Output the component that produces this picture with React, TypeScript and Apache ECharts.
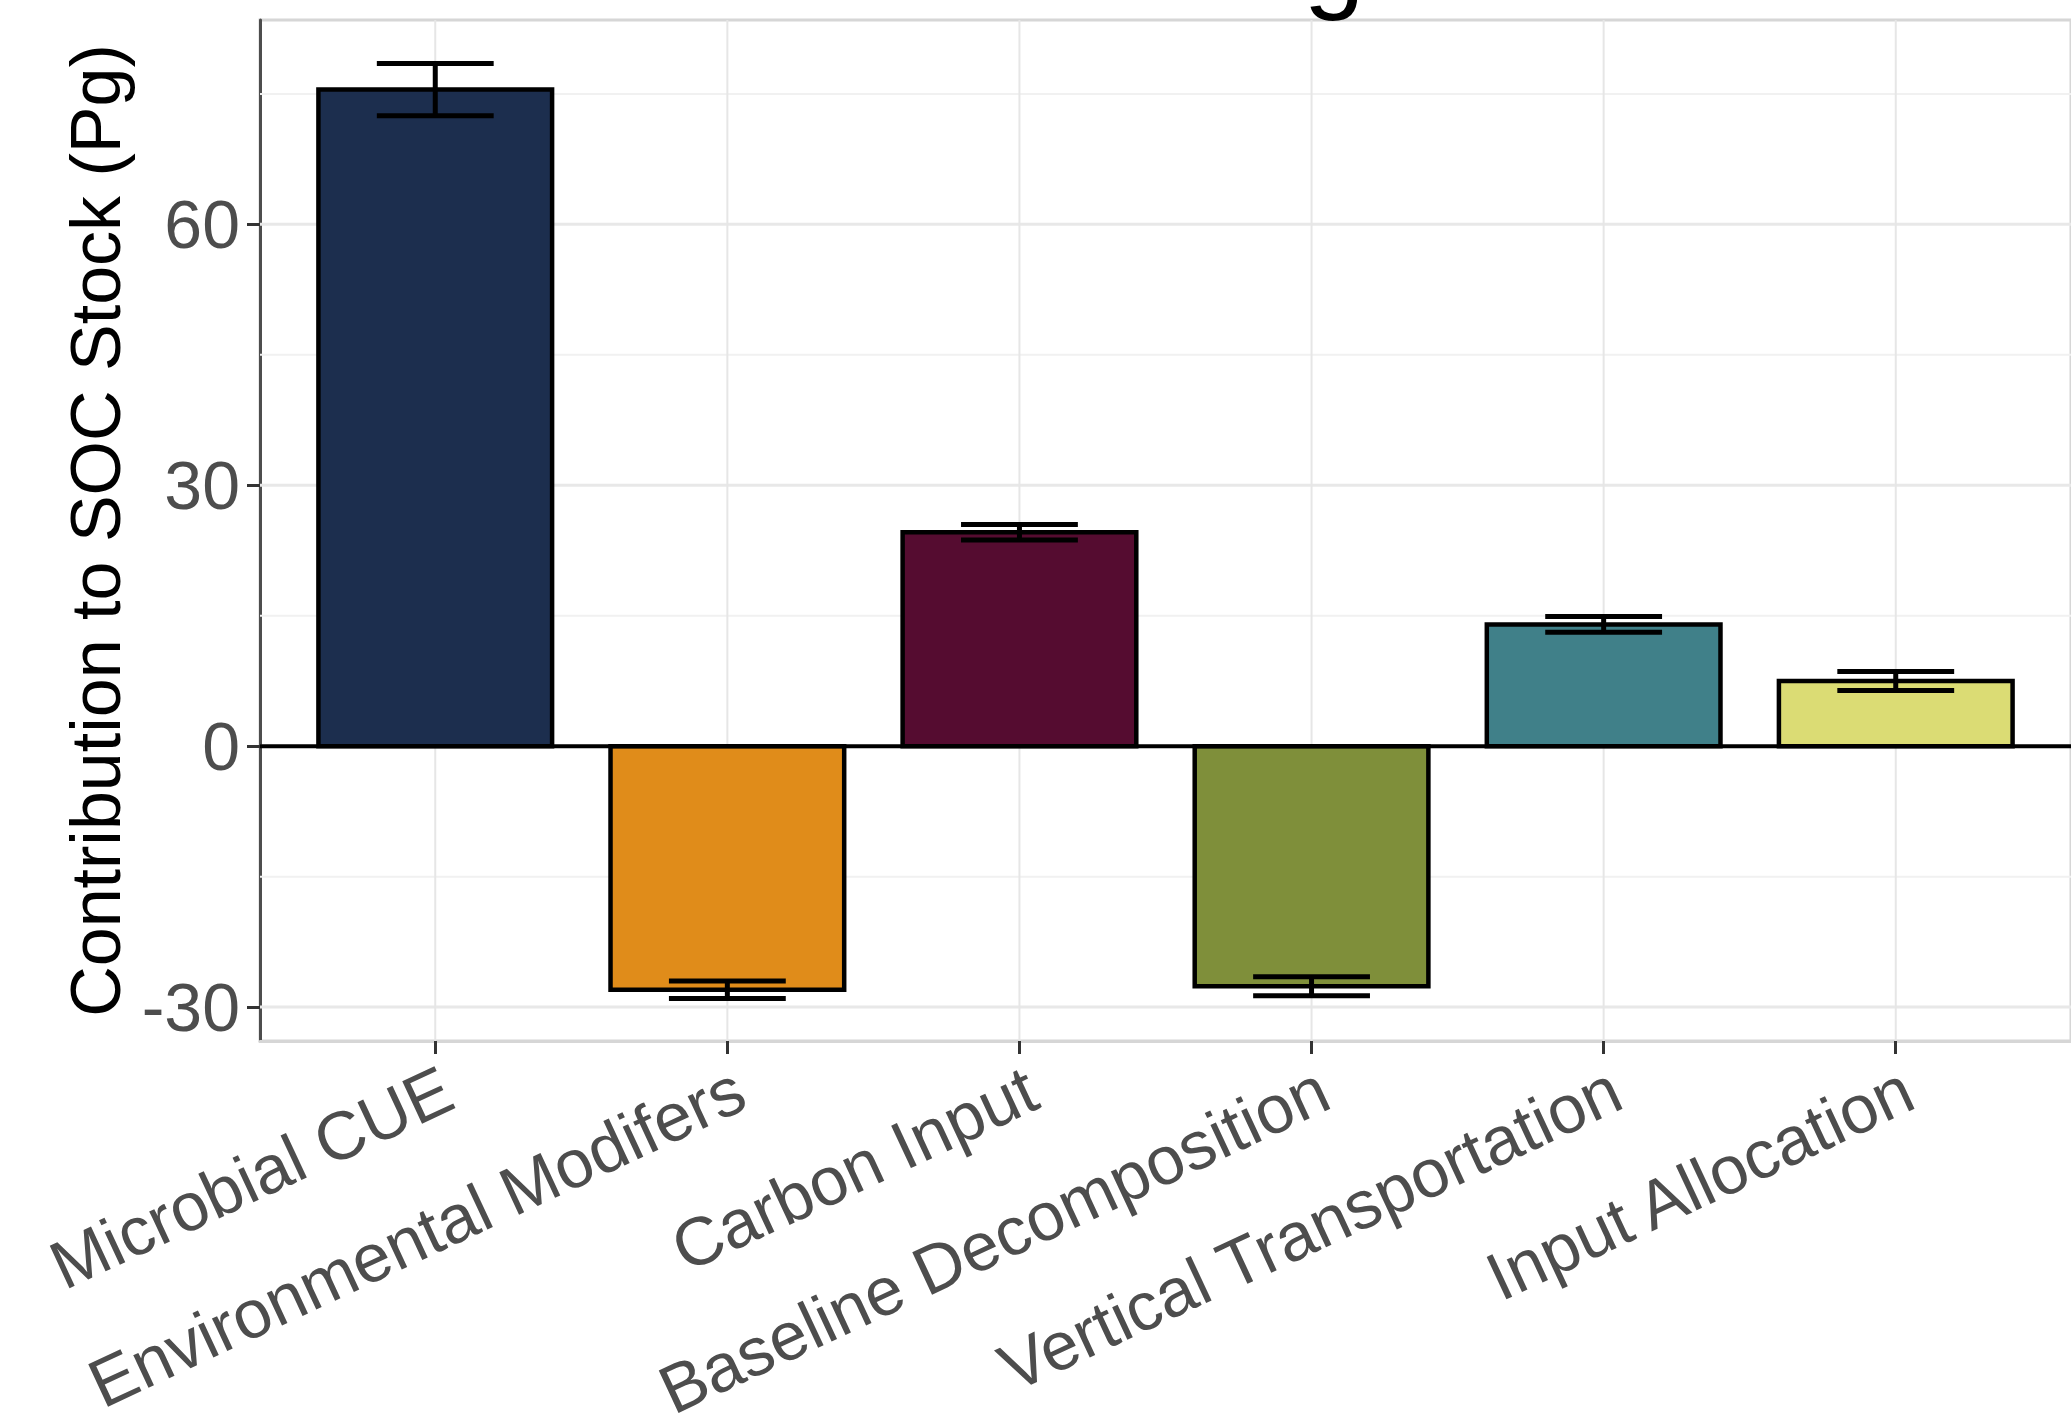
import React, { useEffect, useRef } from "react";
import * as echarts from "echarts";

const categories = [
  "Microbial CUE",
  "Environmental Modifers",
  "Carbon Input",
  "Baseline Decomposition",
  "Vertical Transportation",
  "Input Allocation",
];
const contributions = [75.5, -28.0, 24.6, -27.6, 14.0, 7.5];
const errors = [3.0, 1.0, 0.9, 1.1, 0.9, 1.1];
const barColors = ["#1c2e4e", "#e08c1a", "#550c30", "#7f8f3a", "#408089", "#dbdc74"];
const yTicks = [-30, 0, 30, 60];
const yMinorTicks = [-15, 15, 45, 75];
const yMin = -33.9;
const yMax = 83.5;
const yTitle = "Contribution to SOC Stock (Pg)";

const FONT = "'Liberation Sans', Arial, Helvetica, sans-serif";

export default function App() {
  const ref = useRef<HTMLDivElement>(null);
  useEffect(() => {
    if (!ref.current) return;
    const chart = echarts.init(ref.current, undefined, { renderer: "svg" });
    const xPos = categories.map((_, i) => i + 1);

    const hLine = (color: string, width: number) => (params: any, api: any) => {
      const cs = params.coordSys;
      const y = api.coord([1, api.value(1)])[1];
      return {
        type: "line",
        shape: { x1: cs.x, y1: y, x2: cs.x + cs.width, y2: y },
        style: { stroke: color, lineWidth: width },
      };
    };

    const option: any = {
      animation: false,
      backgroundColor: "#ffffff",
      textStyle: { fontFamily: FONT },
      grid: {
        left: 260,
        top: 20,
        right: -6,
        bottom: 386,
        show: true,
        borderColor: "#d6d6d6",
        borderWidth: 3,
        backgroundColor: "transparent",
      },
      graphic: [
        {
          type: "text",
          x: 1334,
          y: -96,
          silent: true,
          style: {
            text: "g",
            font: `110px ${FONT}`,
            fill: "#000000",
            align: "center",
            verticalAlign: "top",
          },
        },
      ],
      xAxis: {
        type: "value",
        min: 0.4,
        max: 6.6,
        axisLine: { show: true, onZero: false, lineStyle: { color: "#d6d6d6", width: 3 } },
        axisTick: {
          show: true,
          customValues: xPos,
          length: 13,
          lineStyle: { color: "#333333", width: 3 },
        },
        axisLabel: {
          customValues: xPos,
          formatter: (v: number) => categories[Math.round(v) - 1] ?? "",
          rotate: 25,
          fontSize: 68,
          color: "#4d4d4d",
          margin: 50,
          padding: [0, -14, 0, 0],
          fontFamily: FONT,
        },
        splitLine: { show: false },
      },
      yAxis: {
        type: "value",
        min: yMin,
        max: yMax,
        name: yTitle,
        nameLocation: "middle",
        nameGap: 122,
        nameTextStyle: { fontSize: 70, color: "#000000", fontFamily: FONT },
        axisLine: { show: true, lineStyle: { color: "#4d4d4d", width: 3 } },
        axisTick: {
          show: true,
          customValues: yTicks,
          length: 13,
          lineStyle: { color: "#333333", width: 3 },
        },
        axisLabel: {
          customValues: yTicks,
          fontSize: 68,
          color: "#4d4d4d",
          margin: 20,
          fontFamily: FONT,
        },
        splitLine: { show: false },
      },
      series: [
        {
          type: "custom",
          name: "minor",
          z: 1,
          silent: true,
          data: yMinorTicks.map((v) => [1, v]),
          encode: { x: 0, y: 1 },
          renderItem: hLine("#f1f1f1", 2),
        },
        {
          type: "custom",
          name: "major",
          z: 1,
          silent: true,
          data: yTicks.map((v) => [1, v]),
          encode: { x: 0, y: 1 },
          renderItem: hLine("#e8e8e8", 3),
        },
        {
          type: "custom",
          name: "vgrid",
          z: 1,
          silent: true,
          data: xPos.map((x) => [x, 0]),
          encode: { x: 0, y: 1 },
          renderItem: (params: any, api: any) => {
            const cs = params.coordSys;
            const x = api.coord([api.value(0), 0])[0];
            return {
              type: "line",
              shape: { x1: x, y1: cs.y, x2: x, y2: cs.y + cs.height },
              style: { stroke: "#e6e6e6", lineWidth: 2 },
            };
          },
        },
        {
          type: "custom",
          name: "bars",
          z: 2,
          data: xPos.map((x, i) => [x, contributions[i]]),
          encode: { x: 0, y: 1 },
          renderItem: (params: any, api: any) => {
            const x = api.value(0);
            const v = api.value(1);
            const p0 = api.coord([x - 0.4, 0]);
            const p1 = api.coord([x + 0.4, v]);
            return {
              type: "rect",
              shape: {
                x: p0[0],
                y: Math.min(p0[1], p1[1]),
                width: p1[0] - p0[0],
                height: Math.abs(p1[1] - p0[1]),
              },
              style: { fill: barColors[params.dataIndex], stroke: "#000000", lineWidth: 4.5 },
            };
          },
        },
        {
          type: "custom",
          name: "zero",
          z: 3,
          silent: true,
          data: [[1, 0]],
          encode: { x: 0, y: 1 },
          renderItem: hLine("#000000", 4),
        },
        {
          type: "custom",
          name: "errors",
          z: 4,
          data: xPos.map((x, i) => [x, contributions[i] - errors[i], contributions[i] + errors[i]]),
          encode: { x: 0, y: [1, 2] },
          renderItem: (params: any, api: any) => {
            const x = api.value(0);
            const lo = api.coord([x, api.value(1)]);
            const hi = api.coord([x, api.value(2)]);
            const l = api.coord([x - 0.2, 0])[0];
            const r = api.coord([x + 0.2, 0])[0];
            const st = { stroke: "#000000", lineWidth: 5 };
            return {
              type: "group",
              children: [
                { type: "line", shape: { x1: lo[0], y1: lo[1], x2: hi[0], y2: hi[1] }, style: st },
                { type: "line", shape: { x1: l, y1: lo[1], x2: r, y2: lo[1] }, style: st },
                { type: "line", shape: { x1: l, y1: hi[1], x2: r, y2: hi[1] }, style: st },
              ],
            };
          },
        },
      ],
    };
    chart.setOption(option);
    return () => chart.dispose();
  }, []);
  return (
    <div
      ref={ref}
      style={{ position: "absolute", left: 0, top: 0, width: 2071, height: 1427, background: "#fff" }}
    />
  );
}
